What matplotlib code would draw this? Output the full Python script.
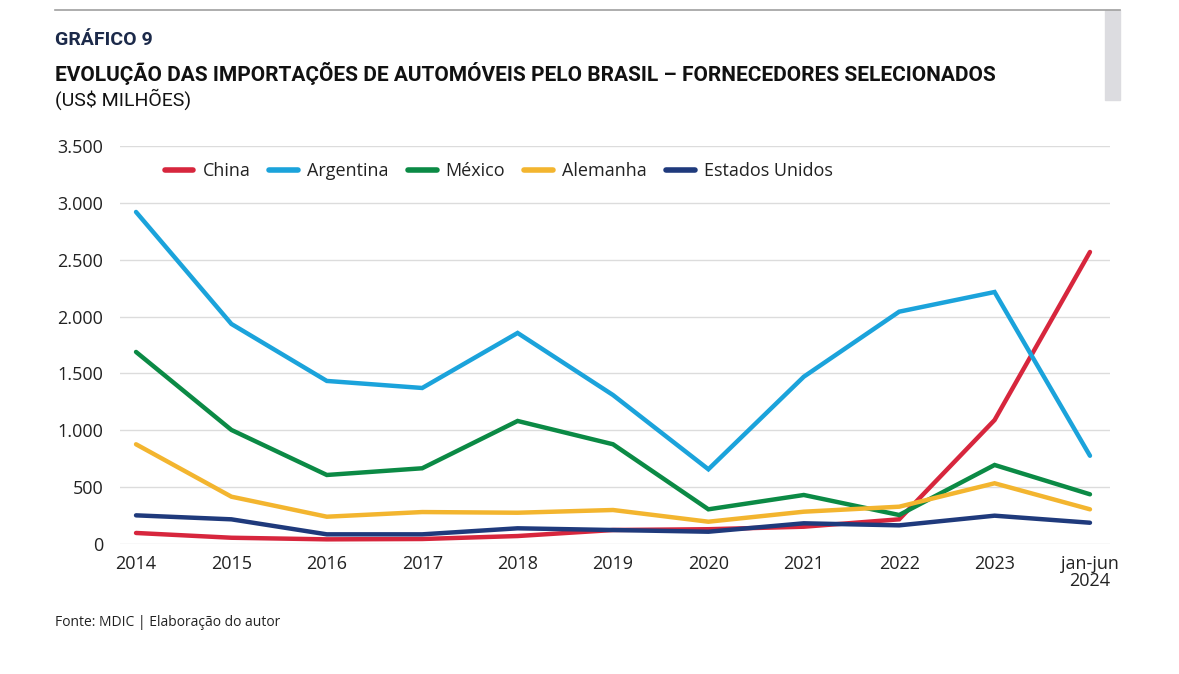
import matplotlib.pyplot as plt
from matplotlib.lines import Line2D

# dados (US$ milhões)
periodos = ['2014', '2015', '2016', '2017', '2018', '2019', '2020', '2021', '2022', '2023', 'jan-jun\n2024']
china = [97, 55, 41, 44, 70, 123, 130, 152, 217, 1090, 2568]
argentina = [2920, 1935, 1434, 1372, 1856, 1310, 657, 1471, 2043, 2216, 776]
mexico = [1689, 1003, 607, 666, 1082, 877, 305, 431, 255, 695, 437]
alemanha = [877, 416, 240, 281, 275, 299, 196, 284, 328, 534, 305]
estados_unidos = [252, 217, 85, 85, 138, 123, 108, 182, 164, 249, 187]

series = [('China', china, '#d7263d'),
          ('Argentina', argentina, '#1ba3db'),
          ('México', mexico, '#0b8a45'),
          ('Alemanha', alemanha, '#f3b52f'),
          ('Estados Unidos', estados_unidos, '#1f3a7c')]

plt.rcParams['font.family'] = ['Open Sans', 'DejaVu Sans']
txt = '#222222'

fig = plt.figure(figsize=(11.79, 6.74), dpi=100)
ax = fig.add_axes([120 / 1179, 1 - 544 / 674, 990 / 1179, 398 / 674])

x = list(range(len(periodos)))
for nome, vals, cor in series:
    ax.plot(x, vals, color=cor, lw=3.2, solid_capstyle='round', solid_joinstyle='miter', label=nome, zorder=3)

ax.set_ylim(0, 3500)
ax.set_xlim(-0.168, 10.21)
ax.set_yticks(range(0, 3501, 500))
ax.set_yticklabels([f'{v:,}'.replace(',', '.') for v in range(0, 3501, 500)])
ax.set_xticks(x)
ax.set_xticklabels(periodos, linespacing=0.95, multialignment='center')
ax.tick_params(axis='both', length=0, labelsize=13, colors=txt)
ax.tick_params(axis='y', pad=12)
ax.tick_params(axis='x', pad=8)
ax.grid(axis='y', color='#dcdcdc', lw=1)
ax.set_axisbelow(True)
for s in ax.spines.values():
    s.set_visible(False)

handles = [Line2D([0], [0], color=c, lw=4, solid_capstyle='round') for _, _, c in series]
leg = ax.legend(handles, [n for n, _, _ in series], loc='center left', bbox_to_anchor=(0.045, 0.937),
                ncol=5, frameon=False, fontsize=13, handlelength=1.6, handletextpad=0.5,
                columnspacing=1.05, borderpad=0, borderaxespad=0)
for t in leg.get_texts():
    t.set_color(txt)

# cabeçalho
fig.add_artist(Line2D([55 / 1179, 1120 / 1179], [1 - 10 / 674, 1 - 10 / 674], color='#a0a0a0', lw=1.2))
fig.patches.append(plt.Rectangle((1105 / 1179, 1 - 100 / 674), 15 / 1179, 90 / 674,
                                 transform=fig.transFigure, color='#dcdce0', zorder=0))
fig.text(55 / 1179, 1 - 40 / 674, 'GRÁFICO 9', fontsize=14, fontweight='bold', color='#1c2a4a',
         family=['Roboto', 'DejaVu Sans'], va='center')
fig.text(55 / 1179, 1 - 73 / 674, 'EVOLUÇÃO DAS IMPORTAÇÕES DE AUTOMÓVEIS PELO BRASIL – FORNECEDORES SELECIONADOS',
         fontsize=15, fontweight='bold', color='#111111', family=['Roboto', 'DejaVu Sans'], va='center')
fig.text(55 / 1179, 1 - 99 / 674, '(US$ MILHÕES)', fontsize=14, color='#111111',
         family=['Roboto', 'DejaVu Sans'], va='center')
fig.text(55 / 1179, 1 - 623 / 674, 'Fonte: MDIC | Elaboração do autor', fontsize=10, color=txt, va='center')

fig.savefig('out.png', dpi=100)
